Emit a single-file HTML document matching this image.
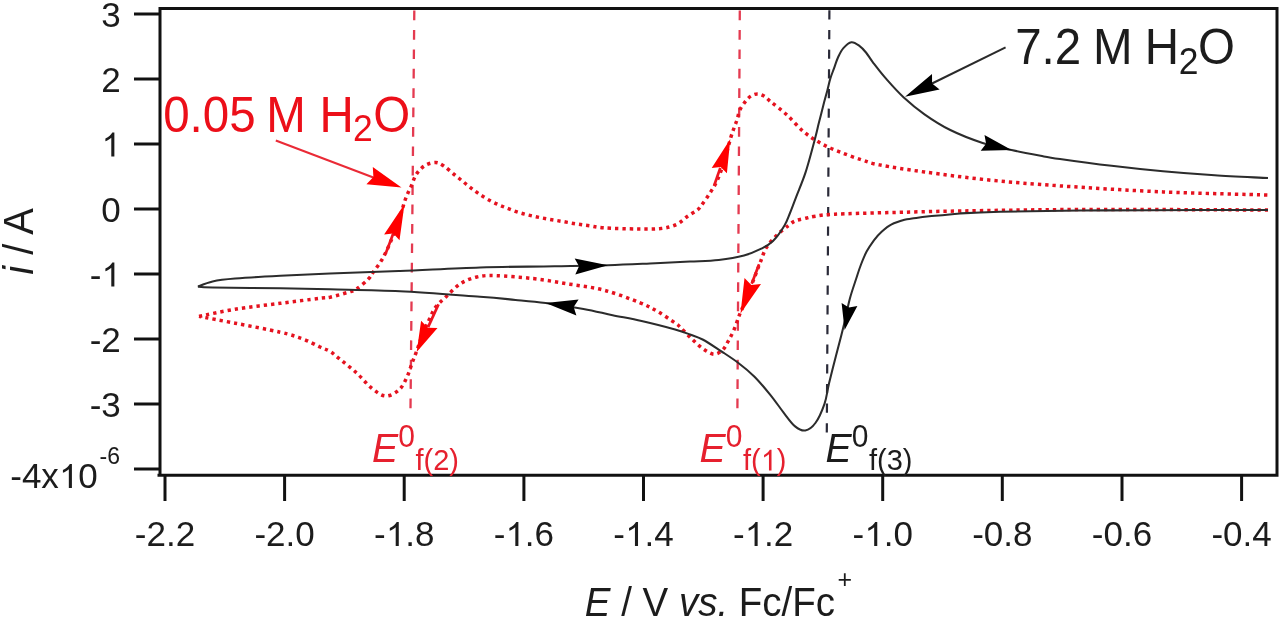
<!DOCTYPE html>
<html><head><meta charset="utf-8"><style>
html,body{margin:0;padding:0;background:#fff;width:1280px;height:620px;overflow:hidden;font-family:"Liberation Sans",sans-serif;}
svg{display:block;filter:blur(0.65px);}
</style></head><body>
<svg width="1280" height="620" viewBox="0 0 1280 620" font-family="Liberation Sans, sans-serif">
<line x1="414.3" y1="10.6" x2="410.5" y2="408.5" stroke="#e43a50" stroke-width="2.3" stroke-dasharray="9.7 9.7"/>
<line x1="739.8" y1="10.6" x2="737.4" y2="408.5" stroke="#e43a50" stroke-width="2.3" stroke-dasharray="9.7 9.7"/>
<line x1="829.4" y1="10.3" x2="826.8" y2="432.5" stroke="#2a2a38" stroke-width="2.2" stroke-dasharray="9.2 10.465"/>
<path d="M199.0,316.4 C205.0,315.2 221.5,311.4 235.1,309.2 C248.7,307.0 266.2,305.1 280.3,303.3 C294.4,301.5 311.7,299.3 320.0,298.3 C328.3,297.3 325.2,298.2 330.0,297.2 C334.8,296.1 344.5,293.4 349.0,292.0 C353.5,290.6 353.8,290.9 357.0,288.7 C360.2,286.5 365.7,281.7 368.4,279.0 C371.1,276.3 371.0,275.4 373.0,272.6 C375.0,269.8 378.3,265.4 380.5,262.0 C382.7,258.6 384.0,256.2 386.0,252.0 C388.0,247.8 390.4,242.3 392.6,237.0 C394.8,231.7 396.9,226.3 399.0,220.0 C401.1,213.7 403.5,204.6 405.5,199.0 C407.5,193.4 409.2,190.7 411.0,186.6 C412.8,182.5 414.1,177.7 416.4,174.2 C418.7,170.7 421.8,167.4 425.0,165.5 C428.2,163.6 432.5,162.4 435.6,162.5 C438.7,162.6 440.5,163.8 443.8,166.0 C447.1,168.2 451.5,172.3 455.4,175.4 C459.3,178.5 463.1,181.8 467.0,184.8 C470.9,187.8 474.5,190.8 478.6,193.6 C482.7,196.4 487.3,199.2 491.7,201.5 C496.1,203.8 500.3,205.5 504.8,207.3 C509.3,209.1 513.9,210.9 518.6,212.4 C523.3,213.9 528.2,215.0 533.0,216.1 C537.8,217.2 542.8,218.1 547.6,219.0 C552.5,219.9 557.3,220.6 562.1,221.4 C566.9,222.2 572.0,223.3 576.6,224.0 C581.2,224.7 585.1,225.2 589.7,225.8 C594.3,226.5 596.2,227.4 604.2,227.9 C612.2,228.4 628.6,228.9 638.0,229.0 C647.4,229.1 654.2,229.3 660.6,228.6 C667.0,227.8 671.9,226.6 676.4,224.5 C680.9,222.4 684.2,218.6 687.7,216.2 C691.2,213.8 695.1,211.8 697.4,210.0 C699.7,208.2 699.2,208.3 701.3,205.5 C703.4,202.7 707.4,197.0 710.0,193.0 C712.6,189.0 714.8,185.5 716.8,181.3 C718.8,177.1 720.5,172.4 722.0,168.0 C723.5,163.6 724.5,160.0 726.0,155.0 C727.5,150.0 729.4,142.3 730.7,137.8 C732.0,133.3 733.0,131.0 734.0,128.0 C735.0,125.0 736.0,123.0 737.0,120.0 C738.0,117.0 738.5,112.9 740.0,109.7 C741.5,106.5 744.0,103.3 745.8,101.0 C747.6,98.7 749.1,97.2 751.0,96.0 C752.9,94.8 755.2,93.9 757.4,93.9 C759.6,93.9 761.7,94.7 764.0,96.0 C766.3,97.3 767.2,98.9 771.0,102.0 C774.8,105.1 781.0,109.5 786.5,114.5 C792.0,119.5 798.2,127.2 804.0,132.0 C809.8,136.8 815.2,140.2 821.3,143.6 C827.4,147.0 833.9,149.6 840.7,152.3 C847.5,155.0 855.5,157.9 862.0,160.0 C868.5,162.1 869.0,162.9 879.4,164.9 C889.8,166.9 906.2,169.5 924.5,172.0 C942.8,174.5 966.4,177.7 989.0,180.0 C1011.6,182.3 1031.0,183.9 1060.0,185.9 C1089.0,187.9 1128.3,190.4 1163.0,191.9 C1197.7,193.4 1250.5,194.5 1268.0,195.0" fill="none" stroke="#e5121f" stroke-width="3.5" stroke-dasharray="3.3 4.0"/>
<path d="M1268.0,210.0 C1236.7,209.9 1131.3,209.3 1080.0,209.5 C1028.7,209.7 991.9,210.5 960.0,211.0 C928.1,211.5 909.2,212.1 888.4,212.6 C867.6,213.1 847.1,213.6 835.0,214.2 C822.9,214.8 820.7,215.4 815.5,216.2 C810.3,216.9 807.4,217.9 804.0,218.7 C800.6,219.5 797.6,219.9 795.0,221.0 C792.4,222.1 791.4,223.1 788.4,225.5 C785.4,227.9 780.5,231.5 776.8,235.2 C773.1,238.9 769.0,243.3 766.2,247.8 C763.5,252.3 762.2,257.6 760.3,262.3 C758.4,267.0 757.0,270.7 755.0,276.0 C753.0,281.3 750.2,288.5 748.0,294.0 C745.8,299.5 743.5,305.3 742.0,309.0 C740.5,312.7 740.3,312.6 739.0,316.0 C737.7,319.4 736.0,325.2 734.2,329.3 C732.5,333.4 730.4,337.2 728.5,340.6 C726.6,344.0 725.3,347.4 722.9,349.7 C720.5,352.0 717.3,354.4 713.9,354.2 C710.5,354.0 706.4,351.1 702.6,348.5 C698.8,345.9 695.1,342.0 691.3,338.4 C687.5,334.8 682.7,329.6 680.0,327.0 C677.3,324.4 678.9,325.6 675.1,323.0 C671.3,320.4 663.3,314.8 657.4,311.4 C651.5,308.0 648.5,306.1 639.6,302.6 C630.7,299.1 616.0,293.3 604.2,290.2 C592.4,287.1 580.5,285.9 568.7,284.0 C556.9,282.1 545.3,280.0 533.2,278.6 C521.1,277.2 505.3,275.9 495.9,275.6 C486.5,275.3 482.6,275.6 476.7,277.0 C470.8,278.4 465.3,280.6 460.3,283.8 C455.3,287.0 450.7,292.3 446.6,296.2 C442.5,300.1 438.5,303.1 435.6,307.1 C432.7,311.1 431.3,315.2 429.0,320.0 C426.7,324.8 424.1,330.8 422.0,336.0 C419.9,341.2 418.4,346.4 416.7,351.0 C415.0,355.6 413.5,359.2 411.9,363.5 C410.3,367.8 409.1,372.6 407.0,377.0 C404.9,381.4 402.8,386.4 399.3,389.6 C395.8,392.8 390.3,396.2 385.8,396.0 C381.3,395.8 377.0,392.4 372.2,388.6 C367.4,384.8 362.3,378.2 356.8,373.2 C351.3,368.2 343.8,362.3 339.3,358.7 C334.8,355.1 333.2,353.3 330.0,351.4 C326.8,349.4 324.5,349.1 320.0,347.0 C315.5,344.9 309.5,341.5 302.9,339.0 C296.3,336.5 291.6,334.8 280.3,332.2 C269.0,329.6 248.7,325.8 235.1,323.2 C221.5,320.6 205.0,317.5 199.0,316.4" fill="none" stroke="#e5121f" stroke-width="3.5" stroke-dasharray="3.3 4.0"/>
<path d="M197.9,286.6 C200.3,285.7 206.4,282.8 212.6,281.4 C218.8,280.0 223.8,279.4 235.1,278.5 C246.4,277.6 264.5,276.6 280.3,275.8 C296.1,275.0 310.1,274.3 330.0,273.5 C349.9,272.7 375.0,272.0 400.0,271.0 C425.0,270.0 454.2,268.2 480.0,267.4 C505.8,266.6 533.2,266.7 554.5,266.3 C575.8,265.9 592.1,265.7 608.0,265.2 C623.9,264.7 636.3,264.1 650.0,263.5 C663.7,262.9 678.5,262.2 690.0,261.6 C701.5,261.0 709.7,260.9 718.7,259.9 C727.7,258.9 736.9,257.4 744.0,255.5 C751.1,253.6 756.5,251.1 761.3,248.7 C766.1,246.3 769.1,244.9 773.0,241.0 C776.9,237.1 781.7,230.2 784.5,225.5 C787.3,220.8 788.0,217.8 790.0,213.0 C792.0,208.2 793.6,203.7 796.2,196.8 C798.8,189.9 802.6,181.6 805.8,171.6 C809.0,161.6 813.4,144.8 815.5,136.8 C817.6,128.8 817.4,128.7 818.7,123.6 C820.0,118.5 821.7,111.8 823.1,106.2 C824.5,100.6 826.2,94.8 827.4,90.2 C828.6,85.6 829.2,82.2 830.3,78.6 C831.4,75.0 832.7,72.0 834.0,68.4 C835.3,64.8 836.7,60.2 838.3,56.8 C839.9,53.4 841.2,50.5 843.4,48.1 C845.6,45.7 848.7,42.7 851.4,42.3 C854.1,41.9 857.0,44.2 859.4,45.9 C861.8,47.6 863.8,49.8 866.0,52.5 C868.2,55.2 869.6,58.0 872.9,62.3 C876.2,66.6 880.7,72.6 885.8,78.4 C890.9,84.2 897.0,91.2 903.5,97.2 C910.0,103.2 916.7,108.8 924.5,114.3 C932.3,119.8 940.6,125.2 950.3,130.0 C960.0,134.8 972.4,139.6 982.6,142.9 C992.8,146.2 1001.9,147.8 1011.6,150.0 C1021.3,152.2 1032.5,154.3 1040.6,155.8 C1048.7,157.3 1048.2,157.3 1060.0,159.0 C1071.8,160.7 1094.4,163.8 1111.6,165.8 C1128.8,167.9 1145.8,169.7 1163.0,171.3 C1180.2,172.9 1197.2,174.2 1214.7,175.3 C1232.2,176.4 1259.1,177.6 1268.0,178.1" fill="none" stroke="#2c2c2c" stroke-width="2.05"/>
<path d="M1268.0,210.0 C1248.3,210.0 1181.3,210.1 1150.0,210.2 C1118.7,210.3 1105.0,210.3 1080.0,210.6 C1055.0,210.9 1020.0,211.3 1000.0,211.8 C980.0,212.3 969.2,212.9 960.0,213.4 C950.8,213.9 950.3,214.5 944.8,215.0 C939.3,215.5 932.5,216.0 927.0,216.6 C921.5,217.2 915.8,218.1 912.0,218.6 C908.2,219.1 907.9,218.8 904.5,219.8 C901.1,220.8 895.4,222.5 891.6,224.4 C887.8,226.3 884.9,228.8 881.9,231.5 C878.9,234.2 876.4,237.0 873.9,240.3 C871.4,243.7 868.8,247.6 866.6,251.6 C864.5,255.6 862.8,259.9 861.0,264.5 C859.2,269.1 858.0,273.2 856.1,279.0 C854.2,284.8 851.6,292.0 849.7,299.2 C847.8,306.4 846.0,316.0 844.6,322.0 C843.2,328.0 842.9,329.3 841.4,335.0 C839.9,340.7 837.9,348.3 835.8,356.4 C833.7,364.5 830.9,375.6 829.0,383.5 C827.1,391.4 826.8,397.2 824.5,403.8 C822.2,410.4 818.6,418.6 815.4,423.0 C812.2,427.4 808.7,429.9 805.3,430.5 C801.9,431.1 798.7,429.3 795.1,426.4 C791.5,423.5 787.9,418.2 783.8,412.9 C779.7,407.6 775.2,400.8 770.3,394.8 C765.4,388.8 759.8,382.0 754.5,376.7 C749.2,371.4 744.4,367.5 738.7,363.2 C733.1,358.9 726.6,354.8 720.6,350.8 C714.6,346.9 707.7,342.2 702.6,339.5 C697.5,336.8 694.6,336.2 690.0,334.5 C685.4,332.8 683.2,331.8 675.1,329.5 C667.0,327.2 652.0,323.4 641.6,321.0 C631.2,318.6 622.3,317.2 612.6,315.2 C602.9,313.2 594.7,311.0 583.5,309.0 C572.3,307.0 556.9,304.5 545.6,303.0 C534.3,301.5 526.4,300.9 515.5,299.9 C504.6,298.9 499.2,298.2 480.0,296.8 C460.8,295.4 425.0,292.4 400.0,291.2 C375.0,289.9 349.9,289.8 330.0,289.3 C310.1,288.8 299.9,288.5 280.3,288.2 C260.7,287.9 226.3,287.8 212.6,287.5 C198.9,287.2 200.3,286.8 197.9,286.6" fill="none" stroke="#2c2c2c" stroke-width="2.05"/>
<path d="M608.0,265.2 L575.3,274.5 L579.0,266.3 L574.7,258.5 Z" fill="#000"/>
<path d="M1011.6,150.0 L980.7,150.7 L986.1,143.8 L984.5,135.1 Z" fill="#000"/>
<path d="M545.6,303.0 L578.6,299.6 L573.7,307.0 L576.4,315.4 Z" fill="#000"/>
<path d="M844.6,330.0 L841.6,303.0 L848.9,307.6 L857.4,306.0 Z" fill="#000"/>
<line x1="392.9" y1="234.6" x2="385.8" y2="253.3" stroke="#ee1520" stroke-width="2.7"/>
<path d="M404.5,204.0 L399.5,240.3 L393.3,233.4 L384.1,234.5 Z" fill="#ff0000"/>
<line x1="428.1" y1="327.1" x2="438.5" y2="304.4" stroke="#ee1520" stroke-width="2.7"/>
<path d="M416.7,351.9 L421.1,320.7 L427.8,327.7 L437.5,328.1 Z" fill="#ff0000"/>
<line x1="720.3" y1="167.9" x2="714.1" y2="185.8" stroke="#ee1520" stroke-width="2.7"/>
<path d="M730.3,139.0 L726.9,173.3 L720.6,166.9 L711.7,168.1 Z" fill="#ff0000"/>
<line x1="751.7" y1="283.8" x2="759.1" y2="264.2" stroke="#ee1520" stroke-width="2.7"/>
<path d="M740.5,313.5 L744.5,277.9 L751.3,284.9 L761.0,284.1 Z" fill="#ff0000"/>
<line x1="275.8" y1="140.5" x2="376" y2="178.5" stroke="#ea2a36" stroke-width="2.1"/>
<path d="M401.5,187.5 L366.4,184.3 L373.4,177.1 L372.8,167.1 Z" fill="#ff0000"/>
<line x1="1005.6" y1="47.3" x2="930" y2="84.5" stroke="#2a2a2a" stroke-width="2"/>
<path d="M905.0,96.8 L932.0,74.0 L932.1,83.5 L939.6,89.4 Z" fill="#000"/>
<path d="M157.5,475.2 L1277,475.2 L1277,8.5 L160,8.5 L160,475" fill="none" stroke="#111111" stroke-width="3"/>
<line x1="134" y1="14.0" x2="160" y2="14.0" stroke="#111111" stroke-width="3"/>
<line x1="134" y1="79.0" x2="160" y2="79.0" stroke="#111111" stroke-width="3"/>
<line x1="134" y1="144.0" x2="160" y2="144.0" stroke="#111111" stroke-width="3"/>
<line x1="134" y1="209.0" x2="160" y2="209.0" stroke="#111111" stroke-width="3"/>
<line x1="134" y1="274.0" x2="160" y2="274.0" stroke="#111111" stroke-width="3"/>
<line x1="134" y1="339.0" x2="160" y2="339.0" stroke="#111111" stroke-width="3"/>
<line x1="134" y1="404.0" x2="160" y2="404.0" stroke="#111111" stroke-width="3"/>
<line x1="134" y1="469.0" x2="160" y2="469.0" stroke="#111111" stroke-width="3"/>
<line x1="165.0" y1="475" x2="165.0" y2="501" stroke="#111111" stroke-width="3"/>
<line x1="284.6" y1="475" x2="284.6" y2="501" stroke="#111111" stroke-width="3"/>
<line x1="404.2" y1="475" x2="404.2" y2="501" stroke="#111111" stroke-width="3"/>
<line x1="523.9" y1="475" x2="523.9" y2="501" stroke="#111111" stroke-width="3"/>
<line x1="643.5" y1="475" x2="643.5" y2="501" stroke="#111111" stroke-width="3"/>
<line x1="763.1" y1="475" x2="763.1" y2="501" stroke="#111111" stroke-width="3"/>
<line x1="882.7" y1="475" x2="882.7" y2="501" stroke="#111111" stroke-width="3"/>
<line x1="1002.3" y1="475" x2="1002.3" y2="501" stroke="#111111" stroke-width="3"/>
<line x1="1122.0" y1="475" x2="1122.0" y2="501" stroke="#111111" stroke-width="3"/>
<line x1="1241.6" y1="475" x2="1241.6" y2="501" stroke="#111111" stroke-width="3"/>
<text x="101.33" y="26.50" transform="matrix(1 0 0 1.000 0 -0.000)" font-size="35" fill="#1c1c1c">3</text>
<text x="101.33" y="91.50" transform="matrix(1 0 0 1.000 0 -0.000)" font-size="35" fill="#1c1c1c">2</text>
<text x="101.33" y="156.50" transform="matrix(1 0 0 1.000 0 -0.000)" font-size="35" fill="#1c1c1c"> </text><path transform="translate(101.33,156.50) scale(0.01709,-0.01709)" d="M763,0 L583,0 L583,1098 Q521,1039 419,979 Q318,920 237,890 L237,1057 Q382,1125 490,1221 Q598,1318 643,1409 L763,1409 Z" fill="#1c1c1c"/>
<text x="101.33" y="221.50" transform="matrix(1 0 0 1.000 0 -0.000)" font-size="35" fill="#1c1c1c">0</text>
<text x="89.68" y="286.50" transform="matrix(1 0 0 1.000 0 -0.000)" font-size="35" fill="#1c1c1c">- </text><path transform="translate(101.33,286.50) scale(0.01709,-0.01709)" d="M763,0 L583,0 L583,1098 Q521,1039 419,979 Q318,920 237,890 L237,1057 Q382,1125 490,1221 Q598,1318 643,1409 L763,1409 Z" fill="#1c1c1c"/>
<text x="89.68" y="351.50" transform="matrix(1 0 0 1.000 0 -0.000)" font-size="35" fill="#1c1c1c">-2</text>
<text x="89.68" y="416.50" transform="matrix(1 0 0 1.000 0 -0.000)" font-size="35" fill="#1c1c1c">-3</text>
<text x="10.25" y="488.00" transform="matrix(1 0 0 1.000 0 -0.000)" font-size="35" fill="#1c1c1c">-4x 0</text><path transform="translate(58.87,488.00) scale(0.01709,-0.01709)" d="M763,0 L583,0 L583,1098 Q521,1039 419,979 Q318,920 237,890 L237,1057 Q382,1125 490,1221 Q598,1318 643,1409 L763,1409 Z" fill="#1c1c1c"/>
<text x="99.5" y="464.5" transform="matrix(1 0 0 1.040 0 -18.580)" font-size="23" fill="#1c1c1c">-6</text>
<text x="134.84" y="546.00" transform="matrix(1 0 0 1.000 0 -0.000)" font-size="35" fill="#1c1c1c">-2.2</text>
<text x="254.46" y="546.00" transform="matrix(1 0 0 1.000 0 -0.000)" font-size="35" fill="#1c1c1c">-2.0</text>
<text x="374.08" y="546.00" transform="matrix(1 0 0 1.000 0 -0.000)" font-size="35" fill="#1c1c1c">- .8</text><path transform="translate(385.74,546.00) scale(0.01709,-0.01709)" d="M763,0 L583,0 L583,1098 Q521,1039 419,979 Q318,920 237,890 L237,1057 Q382,1125 490,1221 Q598,1318 643,1409 L763,1409 Z" fill="#1c1c1c"/>
<text x="493.70" y="546.00" transform="matrix(1 0 0 1.000 0 -0.000)" font-size="35" fill="#1c1c1c">- .6</text><path transform="translate(505.36,546.00) scale(0.01709,-0.01709)" d="M763,0 L583,0 L583,1098 Q521,1039 419,979 Q318,920 237,890 L237,1057 Q382,1125 490,1221 Q598,1318 643,1409 L763,1409 Z" fill="#1c1c1c"/>
<text x="613.32" y="546.00" transform="matrix(1 0 0 1.000 0 -0.000)" font-size="35" fill="#1c1c1c">- .4</text><path transform="translate(624.98,546.00) scale(0.01709,-0.01709)" d="M763,0 L583,0 L583,1098 Q521,1039 419,979 Q318,920 237,890 L237,1057 Q382,1125 490,1221 Q598,1318 643,1409 L763,1409 Z" fill="#1c1c1c"/>
<text x="732.94" y="546.00" transform="matrix(1 0 0 1.000 0 -0.000)" font-size="35" fill="#1c1c1c">- .2</text><path transform="translate(744.60,546.00) scale(0.01709,-0.01709)" d="M763,0 L583,0 L583,1098 Q521,1039 419,979 Q318,920 237,890 L237,1057 Q382,1125 490,1221 Q598,1318 643,1409 L763,1409 Z" fill="#1c1c1c"/>
<text x="852.56" y="546.00" transform="matrix(1 0 0 1.000 0 -0.000)" font-size="35" fill="#1c1c1c">- .0</text><path transform="translate(864.22,546.00) scale(0.01709,-0.01709)" d="M763,0 L583,0 L583,1098 Q521,1039 419,979 Q318,920 237,890 L237,1057 Q382,1125 490,1221 Q598,1318 643,1409 L763,1409 Z" fill="#1c1c1c"/>
<text x="972.18" y="546.00" transform="matrix(1 0 0 1.000 0 -0.000)" font-size="35" fill="#1c1c1c">-0.8</text>
<text x="1091.80" y="546.00" transform="matrix(1 0 0 1.000 0 -0.000)" font-size="35" fill="#1c1c1c">-0.6</text>
<text x="1211.42" y="546.00" transform="matrix(1 0 0 1.000 0 -0.000)" font-size="35" fill="#1c1c1c">-0.4</text>
<text transform="translate(32.5,241.5) rotate(-90) scale(1,1.040)" text-anchor="middle" font-size="40" fill="#1c1c1c"><tspan font-style="italic">i</tspan> / A</text>
<text x="584.8" y="615.8" transform="matrix(1 0 0 1.040 0 -24.632)" font-size="38.5" fill="#1c1c1c"><tspan font-style="italic">E</tspan> / V <tspan font-style="italic">vs.</tspan> Fc/Fc</text>
<text x="837.5" y="588.3" transform="matrix(1 0 0 1.040 0 -23.532)" font-size="25" fill="#1c1c1c">+</text>
<text x="163.2" y="131.6" transform="matrix(1 0 0 1.040 0 -5.264)" font-size="47.5" fill="#ec0f19">0.05<tspan dx="-2.5"> M</tspan><tspan dx="0.5"> H</tspan></text>
<text x="353" y="141.5" transform="matrix(1 0 0 1.040 0 -5.660)" font-size="35.5" fill="#ec0f19">2</text>
<text x="373.2" y="131.6" transform="matrix(1 0 0 1.040 0 -5.264)" font-size="47.5" fill="#ec0f19">O</text>
<text x="1015.2" y="64" transform="matrix(1 0 0 1.040 0 -2.560)" font-size="47.5" fill="#1c1c1c">7.2<tspan dx="-1.5"> M</tspan><tspan dx="-1"> H</tspan></text>
<text x="1178.8" y="74" transform="matrix(1 0 0 1.040 0 -2.960)" font-size="35.5" fill="#1c1c1c">2</text>
<text x="1198" y="64" transform="matrix(1 0 0 1.040 0 -2.560)" font-size="47.5" fill="#1c1c1c">O</text>
<text x="372.0" y="462" transform="matrix(1 0 0 1.040 0 -18.480)" font-size="39.2" font-style="italic" fill="#e6202e">E</text><text x="398.2" y="446.8" transform="matrix(1 0 0 1.040 0 -17.872)" font-size="30" fill="#e6202e">0</text><text x="415.50" y="470.50" transform="matrix(1 0 0 1.040 0 -18.820)" font-size="29" fill="#e6202e">f(2)</text>
<text x="699.5" y="462" transform="matrix(1 0 0 1.040 0 -18.480)" font-size="39.2" font-style="italic" fill="#e6202e">E</text><text x="725.7" y="446.8" transform="matrix(1 0 0 1.040 0 -17.872)" font-size="30" fill="#e6202e">0</text><text x="743.00" y="470.50" transform="matrix(1 0 0 1.040 0 -18.820)" font-size="29" fill="#e6202e">f( )</text><path transform="translate(760.71,470.50) scale(0.01416,-0.01473)" d="M763,0 L583,0 L583,1098 Q521,1039 419,979 Q318,920 237,890 L237,1057 Q382,1125 490,1221 Q598,1318 643,1409 L763,1409 Z" fill="#e6202e"/>
<text x="825.5" y="462" transform="matrix(1 0 0 1.040 0 -18.480)" font-size="39.2" font-style="italic" fill="#1c1c1c">E</text><text x="851.7" y="446.8" transform="matrix(1 0 0 1.040 0 -17.872)" font-size="30" fill="#1c1c1c">0</text><text x="869.00" y="470.50" transform="matrix(1 0 0 1.040 0 -18.820)" font-size="29" fill="#1c1c1c">f(3)</text>
</svg>
</body></html>
